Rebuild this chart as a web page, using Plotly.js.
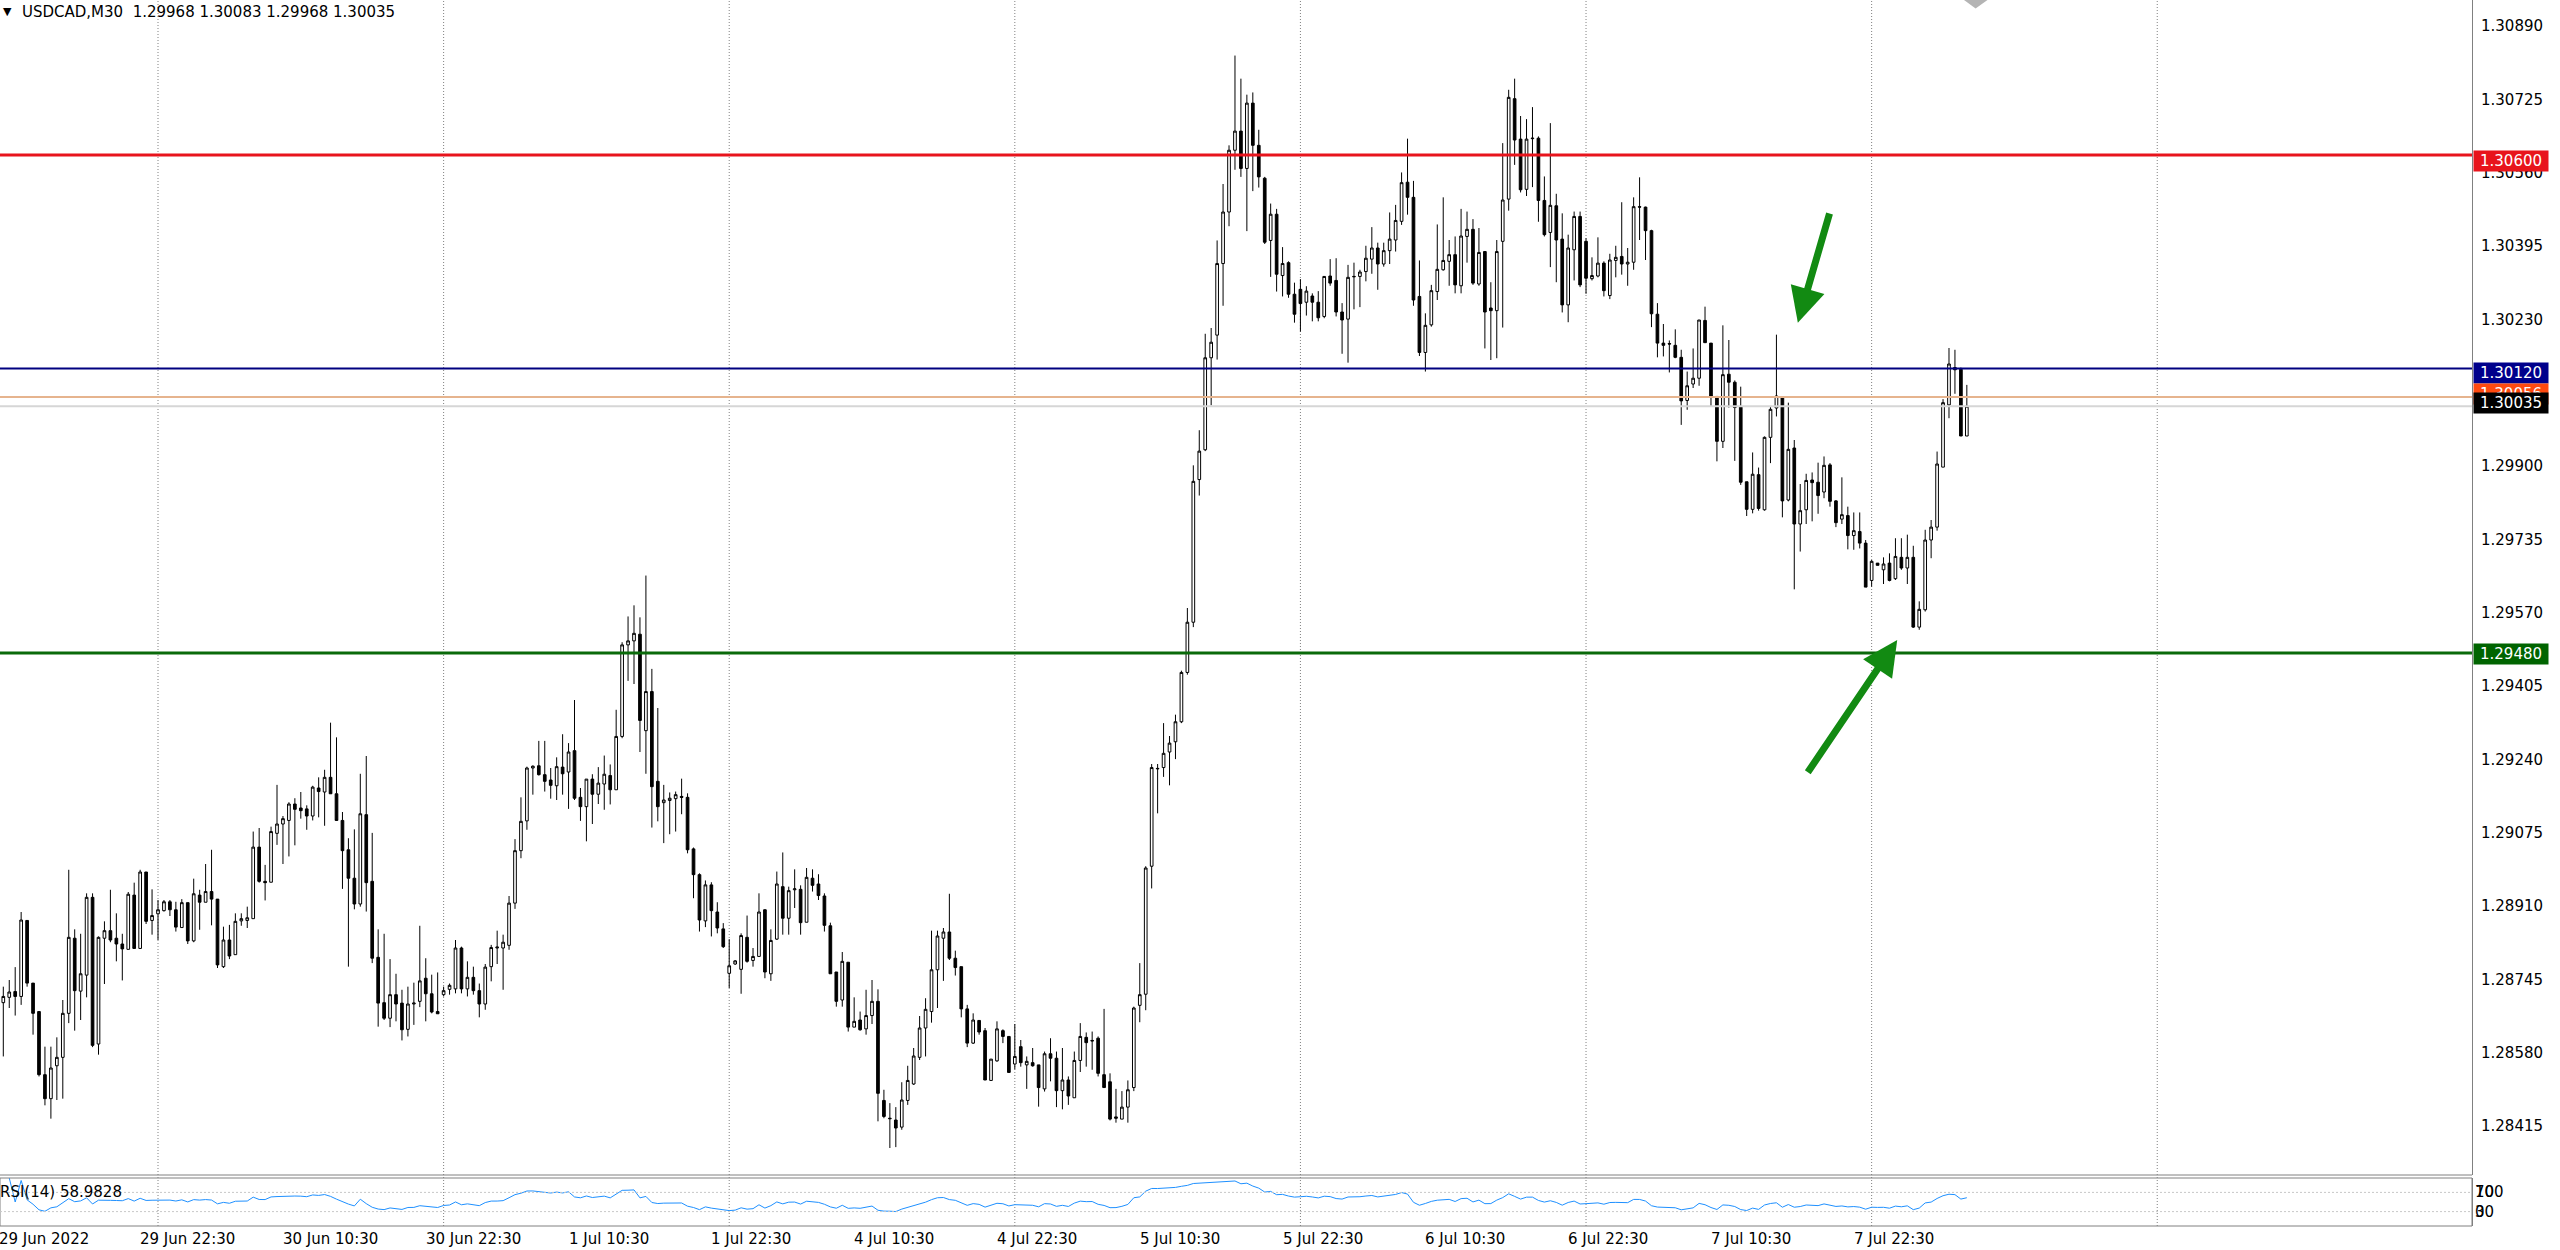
<!DOCTYPE html>
<html><head><meta charset="utf-8">
<script src="https://cdn.plot.ly/plotly-3.0.1.min.js"></script>
<style>html,body{margin:0;padding:0;background:#fff}#chart{width:2560px;height:1250px}</style>
</head><body><div id="chart"></div>
<script>
// USDCAD M30 candles (index 0 = 29 Jun 2022 11:00)
const openP = [1.28693,1.28705,1.28718,1.28707,1.28878,1.28737,1.28673,1.28531,1.28477,1.28551,1.28570,1.28669,1.28838,1.28719,1.28755,1.28930,1.28600,1.28838,1.28855,1.28838,1.28825,1.28813,1.28935,1.28815,1.28987,1.28878,1.28893,1.28900,1.28920,1.28902,1.28862,1.28918,1.28832,1.28935,1.28919,1.28943,1.28926,
1.28774,1.28834,1.28801,1.28877,1.28878,1.28882,1.29043,1.28966,1.28964,1.29074,1.29095,1.29103,1.29140,1.29131,1.29129,1.29113,1.29176,1.29167,1.29200,1.29163,1.29103,1.29037,1.28973,1.28915,1.29116,1.28966,1.28795,1.28693,1.28658,1.28711,1.28692,1.28633,1.28690,1.28696,1.28748,1.28713,1.28673,
1.28711,1.28723,1.28724,1.28816,1.28724,1.28750,1.28720,1.28690,1.28774,1.28816,1.28816,1.28822,1.28917,1.29035,1.29102,1.29221,1.29226,1.29206,1.29194,1.29181,1.29223,1.29212,1.29260,1.29155,1.29134,1.29196,1.29162,1.29185,1.29204,1.29172,1.29292,1.29498,1.29507,1.29522,1.29305,1.29393,1.29191,
1.29143,1.29148,1.29152,1.29157,1.29155,1.29039,1.28981,1.28877,1.28958,1.28897,1.28859,1.28759,1.28780,1.28768,1.28840,1.28788,1.28797,1.28902,1.28758,1.28836,1.28954,1.28883,1.28947,1.28948,1.28874,1.28973,1.28960,1.28933,1.28866,1.28762,1.28699,1.28784,1.28638,1.28654,1.28634,1.28664,1.28696,
1.28473,1.28433,1.28429,1.28413,1.28473,1.28510,1.28570,1.28636,1.28673,1.28767,1.28838,1.28852,1.28793,1.28774,1.28679,1.28602,1.28653,1.28630,1.28518,1.28562,1.28630,1.28617,1.28555,1.28594,1.28553,1.28558,1.28553,1.28499,1.28578,1.28568,1.28495,1.28519,1.28479,1.28563,1.28615,1.28608,1.28613,
1.28531,1.28515,1.28436,1.28431,1.28458,1.28502,1.28687,1.28712,1.29000,1.29219,1.29222,1.29257,1.29280,1.29325,1.29436,1.29549,1.29870,1.29937,1.30144,1.30195,1.30356,1.30472,1.30611,1.30654,1.30570,1.30717,1.30622,1.30548,1.30408,1.30467,1.30329,1.30358,1.30287,1.30298,1.30269,1.30283,1.30269,
1.30237,1.30328,1.30318,1.30247,1.30231,1.30326,1.30327,1.30338,1.30366,1.30391,1.30355,1.30385,1.30409,1.30451,1.30539,1.30505,1.30282,1.30156,1.30218,1.30293,1.30342,1.30361,1.30376,1.30306,1.30417,1.30433,1.30310,1.30383,1.30256,1.30250,1.30406,1.30501,1.30727,1.30636,1.30523,1.30637,1.30638,
1.30498,1.30426,1.30486,1.30411,1.30263,1.30387,1.30462,1.30406,1.30322,1.30328,1.30357,1.30284,1.30363,1.30372,1.30355,1.30359,1.30484,1.30483,1.30430,1.30242,1.30177,1.30176,1.30172,1.30145,1.30048,1.30085,1.30098,1.30228,1.30177,1.30057,1.29956,1.30107,1.30089,1.30033,1.29865,1.29803,1.29881,
1.29802,1.29965,1.30031,1.30055,1.29824,1.29941,1.29770,1.29802,1.29869,1.29864,1.29842,1.29903,1.29822,1.29781,1.29789,1.29744,1.29753,1.29727,1.29643,1.29682,1.29667,1.29682,1.29647,1.29695,1.29671,1.29695,1.29538,1.29577,1.29734,1.29763,1.29898,1.30038,1.30122,1.30118,1.29968];

const highP = [1.28729,1.28744,1.28773,1.28897,1.28879,1.28737,1.28673,1.28594,1.28594,1.28615,1.28699,1.28992,1.28858,1.28848,1.28939,1.28939,1.28842,1.28876,1.28947,1.28894,1.28848,1.28942,1.28963,1.28992,1.28987,1.28948,1.28924,1.28924,1.28924,1.28920,1.28926,1.28918,1.28972,1.28947,1.29005,1.29037,1.28926,
1.28864,1.28868,1.28894,1.28894,1.28909,1.29078,1.29086,1.29003,1.29089,1.29183,1.29113,1.29144,1.29153,1.29167,1.29137,1.29181,1.29200,1.29217,1.29323,1.29290,1.29122,1.29063,1.29083,1.29208,1.29248,1.29075,1.28858,1.28848,1.28791,1.28758,1.28722,1.28729,1.28738,1.28866,1.28793,1.28756,1.28761,
1.28729,1.28736,1.28834,1.28819,1.28786,1.28774,1.28736,1.28780,1.28823,1.28855,1.28846,1.28933,1.29061,1.29155,1.29224,1.29227,1.29282,1.29282,1.29221,1.29245,1.29297,1.29277,1.29374,1.29176,1.29196,1.29207,1.29223,1.29249,1.29229,1.29352,1.29504,1.29562,1.29587,1.29560,1.29654,1.29444,1.29356,
1.29183,1.29166,1.29168,1.29197,1.29164,1.29042,1.28984,1.28968,1.28964,1.28919,1.28872,1.28836,1.28789,1.28849,1.28889,1.28816,1.28939,1.28903,1.28858,1.28988,1.29031,1.28954,1.28993,1.28957,1.28996,1.28993,1.28982,1.28939,1.28873,1.28762,1.28807,1.28784,1.28705,1.28673,1.28722,1.28744,1.28723,
1.28497,1.28467,1.28458,1.28514,1.28551,1.28591,1.28663,1.28703,1.28855,1.28855,1.28861,1.28938,1.28810,1.28774,1.28688,1.28669,1.28654,1.28636,1.28566,1.28651,1.28633,1.28617,1.28645,1.28609,1.28572,1.28591,1.28553,1.28583,1.28613,1.28583,1.28591,1.28527,1.28583,1.28647,1.28626,1.28628,1.28617,
1.28679,1.28534,1.28499,1.28494,1.28518,1.28684,1.28782,1.29000,1.29230,1.29230,1.29322,1.29293,1.29341,1.29440,1.29581,1.29902,1.29981,1.30198,1.30211,1.30408,1.30535,1.30622,1.30824,1.30772,1.30736,1.30741,1.30657,1.30551,1.30491,1.30479,1.30393,1.30361,1.30313,1.30321,1.30305,1.30289,1.30294,
1.30328,1.30366,1.30368,1.30267,1.30353,1.30358,1.30342,1.30396,1.30438,1.30403,1.30403,1.30471,1.30488,1.30561,1.30637,1.30542,1.30363,1.30244,1.30308,1.30444,1.30505,1.30409,1.30417,1.30479,1.30473,1.30456,1.30436,1.30383,1.30314,1.30409,1.30627,1.30747,1.30772,1.30688,1.30681,1.30708,1.30642,
1.30552,1.30672,1.30513,1.30469,1.30421,1.30473,1.30473,1.30413,1.30370,1.30415,1.30361,1.30378,1.30396,1.30494,1.30391,1.30505,1.30550,1.30484,1.30432,1.30267,1.30220,1.30183,1.30208,1.30162,1.30113,1.30165,1.30229,1.30259,1.30177,1.30057,1.30217,1.30184,1.30093,1.30079,1.29865,1.29931,1.29897,
1.29967,1.30033,1.30196,1.30055,1.30043,1.29959,1.29860,1.29883,1.29886,1.29908,1.29922,1.29907,1.29824,1.29875,1.29809,1.29796,1.29796,1.29734,1.29689,1.29682,1.29695,1.29704,1.29738,1.29738,1.29746,1.29721,1.29596,1.29757,1.29779,1.29933,1.30051,1.30166,1.30162,1.30122,1.30083];

const lowP = [1.28572,1.28681,1.28664,1.28688,1.28729,1.28621,1.28527,1.28462,1.28432,1.28474,1.28477,1.28647,1.28630,1.28654,1.28705,1.28593,1.28576,1.28735,1.28829,1.28786,1.28743,1.28813,1.28815,1.28815,1.28870,1.28846,1.28834,1.28898,1.28888,1.28853,1.28862,1.28825,1.28829,1.28857,1.28919,1.28867,1.28771,
1.28771,1.28791,1.28801,1.28866,1.28861,1.28882,1.28963,1.28923,1.28964,1.29048,1.29005,1.29022,1.29047,1.29107,1.29082,1.29103,1.29110,1.29091,1.29163,1.29103,1.28949,1.28774,1.28903,1.28909,1.28898,1.28782,1.28639,1.28654,1.28638,1.28651,1.28608,1.28617,1.28643,1.28683,1.28651,1.28669,1.28668,
1.28707,1.28711,1.28714,1.28714,1.28707,1.28711,1.28660,1.28677,1.28741,1.28780,1.28722,1.28812,1.28904,1.29018,1.29082,1.29161,1.29204,1.29168,1.29152,1.29149,1.29161,1.29129,1.29149,1.29102,1.29056,1.29095,1.29140,1.29127,1.29139,1.29172,1.29288,1.29417,1.29410,1.29257,1.29208,1.29087,1.29101,
1.29052,1.29072,1.29078,1.29117,1.29029,1.28928,1.28853,1.28863,1.28842,1.28849,1.28816,1.28726,1.28778,1.28713,1.28783,1.28774,1.28797,1.28748,1.28742,1.28834,1.28846,1.28846,1.28906,1.28846,1.28874,1.28943,1.28924,1.28853,1.28758,1.28684,1.28684,1.28628,1.28638,1.28630,1.28621,1.28645,1.28426,
1.28433,1.28366,1.28368,1.28407,1.28463,1.28508,1.28564,1.28572,1.28648,1.28681,1.28742,1.28789,1.28754,1.28660,1.28593,1.28600,1.28621,1.28519,1.28518,1.28560,1.28602,1.28536,1.28543,1.28549,1.28499,1.28549,1.28459,1.28493,1.28516,1.28458,1.28453,1.28463,1.28479,1.28537,1.28549,1.28542,1.28527,
1.28502,1.28428,1.28423,1.28431,1.28423,1.28494,1.28649,1.28676,1.28950,1.29119,1.29201,1.29182,1.29241,1.29322,1.29431,1.29538,1.29834,1.29934,1.30037,1.30140,1.30261,1.30440,1.30567,1.30551,1.30429,1.30519,1.30527,1.30400,1.30326,1.30293,1.30282,1.30279,1.30223,1.30203,1.30239,1.30226,1.30226,
1.30233,1.30306,1.30237,1.30153,1.30133,1.30253,1.30258,1.30316,1.30333,1.30297,1.30349,1.30355,1.30383,1.30443,1.30466,1.30261,1.30148,1.30113,1.30214,1.30274,1.30340,1.30306,1.30289,1.30289,1.30358,1.30308,1.30306,1.30165,1.30139,1.30143,1.30212,1.30475,1.30578,1.30516,1.30508,1.30528,1.30450,
1.30417,1.30348,1.30314,1.30246,1.30224,1.30318,1.30303,1.30288,1.30318,1.30325,1.30282,1.30276,1.30325,1.30331,1.30306,1.30342,1.30409,1.30364,1.30213,1.30145,1.30147,1.30111,1.30143,1.29993,1.30027,1.30076,1.30081,1.30178,1.30034,1.29911,1.29941,1.30032,1.29912,1.29858,1.29788,1.29794,1.29800,
1.29800,1.29907,1.30012,1.29785,1.29821,1.29623,1.29708,1.29770,1.29776,1.29793,1.29828,1.29809,1.29763,1.29770,1.29713,1.29712,1.29715,1.29628,1.29629,1.29677,1.29635,1.29641,1.29644,1.29667,1.29635,1.29536,1.29532,1.29573,1.29693,1.29755,1.29898,1.30008,1.30063,1.29968,1.29968];

const closeP = [1.28707,1.28717,1.28707,1.28879,1.28737,1.28669,1.28531,1.28477,1.28546,1.28570,1.28669,1.28840,1.28720,1.28758,1.28930,1.28597,1.28840,1.28855,1.28834,1.28825,1.28814,1.28937,1.28815,1.28987,1.28876,1.28889,1.28902,1.28920,1.28902,1.28863,1.28918,1.28832,1.28938,1.28919,1.28943,1.28926,1.28778,
1.28834,1.28798,1.28876,1.28882,1.28884,1.29043,1.28966,1.28963,1.29078,1.29095,1.29107,1.29140,1.29128,1.29125,1.29113,1.29178,1.29168,1.29200,1.29163,1.29103,1.29035,1.28973,1.28915,1.29118,1.28963,1.28793,1.28692,1.28658,1.28711,1.28690,1.28632,1.28690,1.28692,1.28742,1.28713,1.28672,1.28668,
1.28720,1.28732,1.28816,1.28724,1.28750,1.28720,1.28690,1.28773,1.28817,1.28818,1.28829,1.28917,1.29035,1.29101,1.29221,1.29225,1.29206,1.29191,1.29182,1.29224,1.29208,1.29257,1.29153,1.29134,1.29196,1.29162,1.29187,1.29207,1.29172,1.29292,1.29498,1.29507,1.29524,1.29328,1.29393,1.29179,1.29134,
1.29149,1.29153,1.29161,1.29155,1.29037,1.28981,1.28879,1.28958,1.28900,1.28861,1.28819,1.28776,1.28787,1.28844,1.28786,1.28797,1.28897,1.28762,1.28833,1.28960,1.28883,1.28945,1.28949,1.28873,1.28975,1.28957,1.28934,1.28867,1.28758,1.28696,1.28786,1.28638,1.28651,1.28632,1.28664,1.28696,1.28489,
1.28437,1.28432,1.28411,1.28474,1.28518,1.28573,1.28636,1.28678,1.28767,1.28843,1.28852,1.28793,1.28772,1.28679,1.28602,1.28654,1.28627,1.28519,1.28566,1.28634,1.28617,1.28536,1.28572,1.28558,1.28561,1.28551,1.28502,1.28578,1.28568,1.28495,1.28519,1.28483,1.28563,1.28617,1.28603,1.28607,1.28534,
1.28502,1.28431,1.28433,1.28458,1.28497,1.28681,1.28711,1.28996,1.29222,1.29220,1.29254,1.29277,1.29325,1.29436,1.29549,1.29866,1.29934,1.30144,1.30179,1.30356,1.30472,1.30611,1.30654,1.30570,1.30717,1.30622,1.30551,1.30404,1.30467,1.30332,1.30356,1.30287,1.30242,1.30266,1.30294,1.30269,1.30234,
1.30327,1.30312,1.30247,1.30229,1.30325,1.30327,1.30337,1.30368,1.30391,1.30355,1.30385,1.30411,1.30453,1.30538,1.30505,1.30274,1.30156,1.30217,1.30295,1.30343,1.30363,1.30376,1.30308,1.30418,1.30433,1.30312,1.30381,1.30247,1.30250,1.30383,1.30499,1.30730,1.30634,1.30522,1.30636,1.30638,1.30498,
1.30421,1.30487,1.30409,1.30263,1.30391,1.30462,1.30308,1.30323,1.30329,1.30357,1.30295,1.30364,1.30370,1.30355,1.30359,1.30484,1.30483,1.30430,1.30243,1.30177,1.30172,1.30175,1.30145,1.30047,1.30081,1.30098,1.30229,1.30178,1.30057,1.29956,1.30106,1.30089,1.30032,1.29864,1.29803,1.29882,1.29805,
1.29965,1.30028,1.30058,1.29822,1.29938,1.29770,1.29800,1.29868,1.29863,1.29834,1.29902,1.29821,1.29773,1.29791,1.29744,1.29755,1.29727,1.29628,1.29686,1.29677,1.29680,1.29643,1.29697,1.29671,1.29695,1.29538,1.29578,1.29734,1.29763,1.29905,1.30043,1.30130,1.30117,1.29968,1.30035];

// horizontal levels
const levelPrices = [1.30600, 1.30120, 1.29480];
const levelColors = ['#e8141c', '#000080', '#0a6a0a'];
const levelWidths = [3, 2, 3];
const askPrice = 1.30056, bidPrice = 1.30035;

// x-axis labels (bar index where the label starts)
const xLabelIdx = [0, 23, 47, 71, 95, 119, 143, 167, 191, 215, 239, 263, 287, 311];
const xLabelText = ['29 Jun 2022','29 Jun 22:30','30 Jun 10:30','30 Jun 22:30','1 Jul 10:30','1 Jul 22:30','4 Jul 10:30','4 Jul 22:30','5 Jul 10:30','5 Jul 22:30','6 Jul 10:30','6 Jul 22:30','7 Jul 10:30','7 Jul 22:30'];
// day separators (bar index at 00:00)
const gridIdx = [26, 74, 122, 170, 218, 266, 314, 362];
// price axis ticks
const yTicks = [1.28415,1.28580,1.28745,1.28910,1.29075,1.29240,1.29405,1.29570,1.29735,1.29900,1.30065,1.30230,1.30395,1.30560,1.30725,1.30890];

const N = closeP.length;
const idx = closeP.map((_, i) => i);

function rsiCalc(c, n) {
  const out = new Array(c.length).fill(null);
  let ag = 0, al = 0;
  for (let i = 1; i < c.length; i++) {
    const d = c[i] - c[i - 1];
    const g = Math.max(d, 0), l = Math.max(-d, 0);
    if (i <= n) { ag += (g - ag) / i; al += (l - al) / i; }
    else { ag = (ag * (n - 1) + g) / n; al = (al * (n - 1) + l) / n; }
    out[i] = al === 0 ? 100 : 100 - 100 / (1 + ag / al);
  }
  return out;
}
const rsiVals = rsiCalc(closeP, 14);

const FONT = 'DejaVu Sans, Verdana, sans-serif';

const traces = [
  {
    type: 'candlestick', x: idx, open: openP, high: highP, low: lowP, close: closeP,
    xaxis: 'x', yaxis: 'y',
    increasing: {line: {color: '#000000', width: 1}, fillcolor: '#ffffff'},
    decreasing: {line: {color: '#000000', width: 1}, fillcolor: '#000000'},
    whiskerwidth: 0, hoverinfo: 'skip', showlegend: false
  },
  {
    type: 'scatter', mode: 'lines', x: idx, y: rsiVals, xaxis: 'x', yaxis: 'y2',
    line: {color: '#1E90FF', width: 1}, hoverinfo: 'skip', showlegend: false
  }
];

const MAIN_BOTTOM = 51 / 1226;   // paper fraction
const RSI_TOP = 48 / 1226;

const shapes = [];
gridIdx.forEach(g => shapes.push({type: 'line', xref: 'x', yref: 'paper', x0: g, x1: g, y0: 0, y1: 1,
  line: {color: '#808080', width: 1, dash: '1px,2px'}, layer: 'below'}));
// panel borders
shapes.push({type: 'line', xref: 'paper', yref: 'paper', x0: 0, x1: 1, y0: MAIN_BOTTOM, y1: MAIN_BOTTOM, line: {color: '#808080', width: 1}});
shapes.push({type: 'rect', xref: 'paper', yref: 'paper', x0: 0, x1: 1, y0: 0, y1: RSI_TOP, line: {color: '#808080', width: 1}});
// RSI levels
[70, 30].forEach(v => shapes.push({type: 'line', xref: 'paper', yref: 'y2', x0: 0, x1: 1, y0: v, y1: v,
  line: {color: '#c8c8c8', width: 1, dash: '2px,2px'}}));
// bid / ask lines
shapes.push({type: 'line', xref: 'paper', yref: 'y', x0: 0, x1: 1, y0: bidPrice, y1: bidPrice, line: {color: '#d6d6d6', width: 2}});
shapes.push({type: 'line', xref: 'paper', yref: 'y', x0: 0, x1: 1, y0: askPrice, y1: askPrice, line: {color: '#e6b48e', width: 2}});
levelPrices.forEach((p, i) => shapes.push({type: 'line', xref: 'paper', yref: 'y', x0: 0, x1: 1, y0: p, y1: p,
  line: {color: levelColors[i], width: levelWidths[i]}}));
// chart-shift marker at top
shapes.push({type: 'path', xref: 'paper', yref: 'paper', path: 'M 0.7945 1 L 0.8040 1 L 0.7992 0.9930 Z', fillcolor: '#b4b4b4', line: {width: 0}});

const annotations = [];
annotations.push({xref: 'paper', yref: 'paper', x: 0, y: 1, xanchor: 'left', yanchor: 'top', xshift: 1, yshift: -3,
  text: '▼', showarrow: false, font: {family: FONT, size: 11, color: '#000'}});
annotations.push({xref: 'paper', yref: 'paper', x: 0, y: 1, xanchor: 'left', yanchor: 'top', xshift: 20, yshift: -1,
  text: 'USDCAD,M30  1.29968 1.30083 1.29968 1.30035', showarrow: false, font: {family: FONT, size: 15, color: '#000'}});
annotations.push({xref: 'paper', yref: 'y2', x: 0, y: 70, xanchor: 'left', yanchor: 'middle', xshift: -2,
  text: 'RSI(14) 58.9828', showarrow: false, font: {family: FONT, size: 15, color: '#000'}});
['100', '70'].forEach(t => annotations.push({xref: 'paper', yref: 'y2', x: 1, y: 70, xanchor: 'left', yanchor: 'middle', xshift: 1,
  text: t, showarrow: false, font: {family: FONT, size: 15, color: '#000'}}));
['30', '0'].forEach(t => annotations.push({xref: 'paper', yref: 'y2', x: 1, y: 30, xanchor: 'left', yanchor: 'middle', xshift: 1,
  text: t, showarrow: false, font: {family: FONT, size: 15, color: '#000'}}));
xLabelIdx.forEach((xi, i) => annotations.push({xref: 'x', yref: 'paper', x: xi, y: 0, xanchor: 'left', yanchor: 'top',
  xshift: i === 0 ? -6 : -2, yshift: -2, text: xLabelText[i], showarrow: false, font: {family: FONT, size: 15, color: '#000'}}));

function priceBox(price, text, bg, yshift) {
  annotations.push({xref: 'paper', yref: 'y', x: 1, y: price, xanchor: 'left', yanchor: 'middle', xshift: 1, yshift: yshift,
    text: text, showarrow: false, bgcolor: bg, width: 72, height: 18, borderpad: 1, align: 'center',
    font: {family: FONT, size: 15, color: '#ffffff'}});
}
priceBox(levelPrices[0], '1.30600', levelColors[0], -6);
priceBox(levelPrices[1], '1.30120', '#00008c', -5);
priceBox(levelPrices[2], '1.29480', '#006400', -1);
priceBox(askPrice, '1.30056', '#ff4a10', 3);
priceBox(bidPrice, '1.30035', '#000000', 3);

// green arrows
annotations.push({xref: 'x', yref: 'y', axref: 'x', ayref: 'y', x: 301.6, y: 1.30223, ax: 307.0, ay: 1.30472,
  text: '', showarrow: true, arrowhead: 2, arrowsize: 1, arrowwidth: 7, arrowcolor: '#128a12', standoff: 0, startstandoff: 0});
annotations.push({xref: 'x', yref: 'y', axref: 'x', ayref: 'y', x: 318.3, y: 1.29509, ax: 303.1, ay: 1.29208,
  text: '', showarrow: true, arrowhead: 2, arrowsize: 1, arrowwidth: 7, arrowcolor: '#128a12', standoff: 0, startstandoff: 0});

const layout = {
  width: 2560, height: 1250,
  margin: {l: 0, r: 88, t: 0, b: 24, pad: 0},
  paper_bgcolor: '#ffffff', plot_bgcolor: '#ffffff',
  showlegend: false, dragmode: false, boxgap: 0.36,
  xaxis: {range: [-0.555, 414.9], anchor: 'y2', showgrid: false, zeroline: false, showticklabels: false,
    showline: false, rangeslider: {visible: false}, fixedrange: true},
  yaxis: {domain: [MAIN_BOTTOM, 1], range: [1.28303 + 0.0000225, 1.30949], side: 'right', anchor: 'x',
    tickmode: 'array', tickvals: yTicks, ticktext: yTicks.map(v => v.toFixed(5)), ticks: '', ticklabelstandoff: 5,
    showgrid: false, zeroline: false, showline: true, linecolor: '#808080', linewidth: 1,
    tickfont: {family: FONT, size: 15, color: '#000'}, fixedrange: true},
  yaxis2: {domain: [0, RSI_TOP], range: [0, 100], side: 'right', anchor: 'x', showticklabels: false,
    showgrid: false, zeroline: false, showline: true, linecolor: '#808080', linewidth: 1, fixedrange: true},
  shapes: shapes, annotations: annotations
};

Plotly.newPlot('chart', traces, layout, {staticPlot: true, displayModeBar: false});
</script></body></html>
